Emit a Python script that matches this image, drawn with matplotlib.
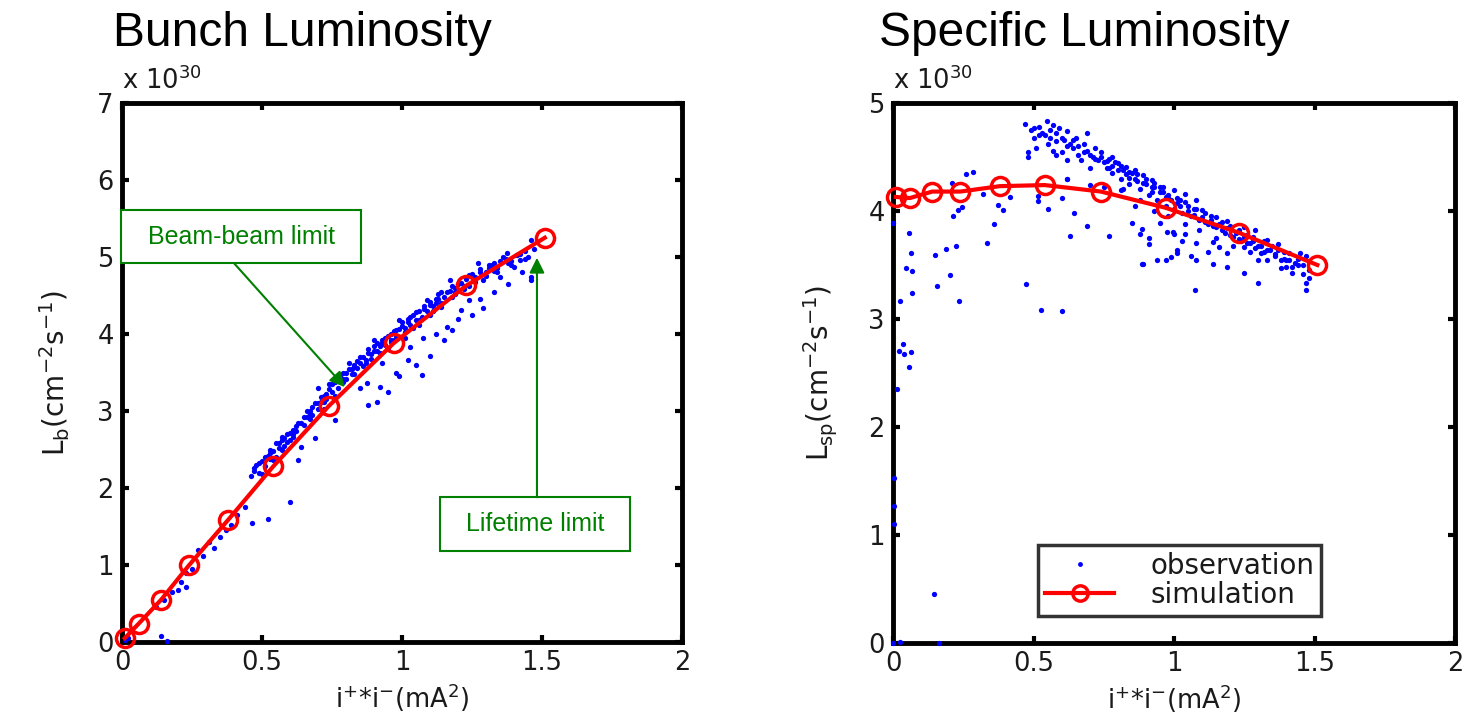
import matplotlib
matplotlib.use("Agg")
import matplotlib.pyplot as plt
from matplotlib.patches import Rectangle

# ---------------- data ----------------
sim_x = [0.01, 0.06, 0.14, 0.24, 0.38, 0.54, 0.74, 0.97, 1.23, 1.51]
sim_lb = [0.05, 0.24, 0.55, 1.00, 1.59, 2.28, 3.07, 3.88, 4.63, 5.25]
sim_lsp = [4.13, 4.12, 4.18, 4.18, 4.23, 4.24, 4.18, 4.03, 3.80, 3.50]

obs_lb_x = [0.01, 0.02, 0.14, 0.16, 0.12, 0.15, 0.18, 0.20, 0.21, 0.23, 0.23, 0.25, 0.27, 0.29,
            0.31, 0.33, 0.35, 0.37, 0.39, 0.41, 0.44, 0.465, 0.52, 0.60, 0.46, 0.47, 0.48, 0.49,
            0.50, 0.50, 0.51, 0.52, 0.53, 0.54, 0.55, 0.55, 0.56, 0.57, 0.58, 0.59, 0.60, 0.61,
            0.62, 0.63, 0.64, 0.64, 0.65, 0.66, 0.67, 0.68, 0.69, 0.70, 0.70, 0.71, 0.72, 0.73,
            0.74, 0.75, 0.76, 0.76, 0.77, 0.78, 0.79, 0.80, 0.81, 0.82, 0.83, 0.84, 0.85, 0.85,
            0.86, 0.875, 0.88, 0.88, 0.89, 0.90, 0.90, 0.91, 0.92, 0.93, 0.93, 0.94, 0.95, 0.96,
            0.97, 0.98, 0.98, 0.99, 1.00, 1.01, 1.02, 1.02, 1.03, 1.03, 1.04, 1.05, 1.06, 1.07,
            1.075, 1.08, 1.09, 1.10, 1.10, 1.11, 1.12, 1.13, 1.14, 1.15, 1.16, 1.16, 1.17, 1.18,
            1.19, 1.20, 1.21, 1.22, 1.23, 1.24, 1.25, 1.25, 1.26, 1.27, 1.28, 1.29, 1.30, 1.31,
            1.32, 1.33, 1.35, 1.35, 1.36, 1.375, 1.38, 1.40, 1.41, 1.42, 1.44, 1.46, 1.46, 1.46,
            1.47, 0.91, 0.95, 0.99, 1.05, 1.10, 1.12, 1.18, 1.20, 1.28, 1.33, 1.38, 1.43,
            0.53, 0.57, 0.61, 0.67, 0.72, 0.79, 0.83, 0.87, 0.92, 0.96, 1.01, 1.06, 1.14,
            1.19, 1.24, 1.29, 1.34, 1.39, 1.44,
            0.47, 0.49, 0.51, 0.53, 0.54, 0.56, 0.57, 0.58, 0.59, 0.60, 0.61, 0.62, 0.63, 0.65,
            0.66, 0.67, 0.68, 0.69, 0.70, 0.71, 0.72, 0.73, 0.74, 0.75, 0.76, 0.77, 0.78, 0.79,
            0.80, 0.81, 0.82, 0.83, 0.84, 0.85, 0.86, 0.87, 0.88, 0.89, 0.90, 0.91, 0.92, 0.93,
            0.94, 0.95, 0.96, 0.97, 0.98, 0.99, 1.00, 1.01, 1.02, 1.03, 1.04, 1.05, 1.06, 1.07,
            1.08, 1.09, 1.10, 1.11, 1.12, 1.13, 1.14, 1.15, 1.17, 1.18, 1.19, 1.21, 1.22, 1.24,
            1.26, 1.28, 1.30, 1.31, 1.33, 1.34, 1.37, 1.39, 1.42, 1.45]
obs_lb_y = [0.03, 0.05, 0.08, 0.01, 0.45, 0.55, 0.65, 0.67, 0.78, 0.72, 0.90, 0.95, 1.19, 1.12,
            1.30, 1.22, 1.37, 1.45, 1.52, 1.65, 1.75, 1.55, 1.60, 1.82, 2.15, 2.22, 2.30, 2.20,
            2.35, 2.18, 2.28, 2.42, 2.38, 2.48, 2.58, 2.40, 2.52, 2.62, 2.55, 2.70, 2.62, 2.75,
            2.80, 2.36, 2.53, 2.85, 2.92, 3.00, 2.90, 3.05, 2.65, 3.10, 3.30, 3.18, 3.02, 3.22,
            3.28, 3.35, 2.88, 3.20, 3.40, 3.45, 3.38, 3.50, 3.62, 3.55, 3.48, 3.65, 3.30, 3.70,
            3.58, 3.36, 3.08, 3.75, 3.68, 3.85, 3.92, 3.78, 3.31, 3.62, 3.88, 3.95, 3.82, 4.00,
            3.92, 3.49, 4.05, 4.18, 4.10, 3.95, 3.66, 4.15, 3.83, 4.22, 4.08, 4.28, 4.18, 3.47,
            3.95, 4.32, 4.44, 4.25, 4.38, 4.30, 4.45, 4.52, 4.40, 3.92, 4.09, 4.55, 4.70, 4.48,
            4.60, 4.65, 4.31, 4.58, 4.72, 4.44, 4.25, 4.78, 4.68, 4.92, 4.80, 4.34, 4.75, 4.86,
            4.90, 4.82, 4.74, 4.95, 5.00, 5.05, 4.92, 4.87, 5.02, 4.96, 5.08, 5.22, 4.74, 4.70,
            5.10, 3.12, 3.25, 3.45, 3.60, 3.72, 4.00, 4.05, 4.20, 4.45, 4.55, 4.65, 4.80,
            2.50, 2.66, 2.70, 2.96, 3.12, 3.42, 3.58, 3.62, 3.75, 3.90, 4.02, 4.12, 4.35,
            4.52, 4.62, 4.70, 4.80, 4.90, 4.98,
            2.26, 2.32, 2.40, 2.45, 2.36, 2.58, 2.50, 2.65, 2.60, 2.72, 2.66, 2.74, 2.85, 2.82,
            2.92, 3.00, 2.95, 3.10, 3.02, 3.12, 3.20, 3.15, 3.35, 3.25, 3.38, 3.30, 3.40, 3.50,
            3.42, 3.55, 3.48, 3.60, 3.56, 3.62, 3.70, 3.66, 3.80, 3.74, 3.78, 3.88, 3.84, 3.92,
            3.86, 3.98, 3.92, 4.04, 3.98, 4.06, 4.15, 4.08, 4.20, 4.12, 4.25, 4.18, 4.30, 4.22,
            4.36, 4.30, 4.42, 4.36, 4.40, 4.45, 4.55, 4.48, 4.56, 4.62, 4.54, 4.66, 4.62, 4.76,
            4.74, 4.85, 4.80, 4.90, 4.92, 4.86, 4.98, 4.95, 5.04, 5.00]

obs_lsp_x = [0.26, 0.285, 0.21, 0.32, 0.416, 0.516, 0.516, 0.60, 0.62, 0.374, 0.39, 0.245, 0.23,
             0.214, 0.55, 0.645, 0.69, 0.63, 0.77, 0.36, 0.335, 0.224, 0.19, 0.15, 0.057, 0.064,
             0.046, 0.067, 0.067, 0.157, 0.203, 0.235, 0.473, 0.527, 0.60, 0.025, 0.0, 0.85,
             0.886, 0.91, 0.91, 0.886, 0.94, 0.99, 0.975, 0.996, 1.01,
             0.036, 0.02, 0.04, 0.064, 0.057, 0.014, 0.004, 0.004, 0.004, 0.146, 0.0, 0.025,
             0.164,
             0.47, 0.548, 0.50, 0.52, 0.57, 0.59, 0.62, 0.69, 0.56, 0.61, 0.65, 0.51, 0.57, 0.64,
             0.69, 0.74, 0.48, 0.58, 0.62, 0.67, 0.73, 0.78, 0.80, 0.83, 0.86, 0.70, 0.77, 0.89,
             0.92, 0.84, 0.95, 1.00, 1.04, 1.08, 0.92, 0.97, 1.01, 1.10, 1.15, 1.19, 1.25, 1.29,
             1.33, 1.37, 1.41, 1.45, 1.47, 1.48, 1.47, 1.47, 1.30, 1.25, 1.19, 1.14, 1.08, 1.06,
             1.01, 0.97, 1.075, 0.89, 0.88, 0.95, 1.00, 1.04, 1.08, 1.14, 1.25, 1.31, 1.38, 1.38,
             1.42, 1.30, 1.19, 1.16, 0.70, 0.62, 0.75, 0.81,
             0.76, 0.78, 0.79, 0.81, 0.82, 0.84, 0.85, 0.87, 0.88, 0.90, 0.91, 0.93, 0.94, 0.96,
             0.97, 0.98, 1.00, 1.02, 1.03, 1.05, 1.06, 1.07, 1.09, 1.11, 1.12, 1.13, 1.15, 1.17,
             1.18, 1.20, 1.21, 1.23, 1.24, 1.26, 1.27, 1.28, 1.30, 1.32, 1.33, 1.35, 1.36, 1.39,
             1.40, 1.43, 1.44, 1.46, 1.48,
             0.49, 0.53, 0.55, 0.58, 0.60, 0.63, 0.66, 0.68, 0.71, 0.72, 0.75, 0.77, 0.48,
             0.50, 0.52, 0.54, 0.56, 0.58, 0.60, 0.62, 0.64, 0.66, 0.68, 0.70, 0.72, 0.74, 0.76,
             0.78, 0.80, 0.81, 0.83, 0.84, 0.86, 0.87, 0.89, 0.90, 0.92, 0.93, 0.95, 0.96, 0.98,
             0.99, 1.01, 1.02, 1.04, 1.05, 1.07, 1.08, 1.10, 1.11, 1.13, 1.14, 1.16, 1.17, 1.19,
             1.20, 1.22, 1.23, 1.25, 1.26, 1.28, 1.29, 1.31, 1.32, 1.34, 1.36, 1.37, 1.39, 1.41,
             1.42, 1.44, 1.46, 0.82, 0.88, 0.93, 0.98, 1.04, 1.09, 1.15, 1.21, 1.27, 1.33, 1.40,
             0.86, 1.03, 1.12]
obs_lsp_y = [4.34, 4.36, 4.26, 4.16, 4.13, 4.14, 4.09, 4.12, 4.30, 4.06, 4.01, 4.04, 4.01,
             3.95, 4.02, 3.98, 3.86, 3.77, 3.77, 3.88, 3.70, 3.68, 3.65, 3.59, 3.80, 3.61,
             3.47, 3.44, 3.24, 3.31, 3.41, 3.17, 3.32, 3.08, 3.07, 3.17, 3.89, 3.89,
             3.83, 3.75, 3.69, 3.51, 3.55, 3.57, 3.81, 3.81, 3.64,
             2.77, 2.70, 2.68, 2.69, 2.56, 2.35, 1.53, 1.27, 1.10, 0.45, 0.0, 0.01,
             0.0,
             4.81, 4.83, 4.77, 4.70, 4.80, 4.77, 4.74, 4.72, 4.68, 4.66, 4.68, 4.58, 4.56, 4.58,
             4.56, 4.55, 4.50, 4.52, 4.47, 4.47, 4.47, 4.50, 4.44, 4.41, 4.38, 4.40, 4.40, 4.33,
             4.29, 4.31, 4.22, 4.19, 4.16, 4.10, 4.18, 4.13, 4.07, 4.01, 3.94, 3.91, 3.85, 3.82,
             3.73, 3.69, 3.61, 3.61, 3.58, 3.38, 3.33, 3.27, 3.33, 3.43, 3.48, 3.51, 3.55, 3.58,
             3.61, 3.55, 3.27, 3.51, 3.79, 3.89, 3.79, 3.79, 3.70, 3.71, 3.67, 3.61, 3.55, 3.47,
             3.43, 3.55, 3.61, 3.67, 4.24, 4.30, 4.22, 4.19,
             4.40, 4.35, 4.45, 4.30, 4.38, 4.25, 4.35, 4.28, 4.20, 4.25, 4.15, 4.22, 4.10, 4.18,
             4.05, 4.12, 4.02, 4.10, 3.98, 4.05, 3.95, 4.02, 3.92, 3.98, 3.88, 3.95, 3.85, 3.90,
             3.80, 3.86, 3.76, 3.82, 3.72, 3.78, 3.70, 3.76, 3.68, 3.72, 3.64, 3.68, 3.60, 3.62,
             3.55, 3.52, 3.56, 3.50, 3.45,
             4.75, 4.72, 4.62, 4.65, 4.55, 4.62, 4.52, 4.62, 4.50, 4.58, 4.45, 4.48, 4.55,
             4.68, 4.78, 4.70, 4.75, 4.72, 4.68, 4.60, 4.66, 4.60, 4.55, 4.52, 4.48, 4.50, 4.46,
             4.42, 4.38, 4.42, 4.34, 4.36, 4.30, 4.34, 4.26, 4.30, 4.22, 4.26, 4.18, 4.22, 4.15,
             4.10, 4.12, 4.05, 4.08, 4.00, 3.96, 4.02, 3.94, 3.90, 3.92, 3.86, 3.88, 3.82, 3.84,
             3.78, 3.80, 3.74, 3.76, 3.70, 3.72, 3.66, 3.68, 3.62, 3.64, 3.58, 3.64, 3.56, 3.55,
             3.48, 3.50, 3.42, 4.20, 4.10, 4.00, 3.95, 3.88, 3.82, 3.75, 3.68, 3.62, 3.55, 3.48,
             4.05, 3.72, 3.62]

x_ticks = [0, 0.5, 1, 1.5, 2]
x_ticklabels = ["0", "0.5", "1", "1.5", "2"]
lb_ticks = [0, 1, 2, 3, 4, 5, 6, 7]
lsp_ticks = [0, 1, 2, 3, 4, 5]

# ---------------- style ----------------
W, H = 1466, 719
plt.rcParams['font.family'] = ['DejaVu Sans']
plt.rcParams['mathtext.default'] = 'regular'
fig = plt.figure(figsize=(W / 100, H / 100), dpi=100)
fig.patch.set_facecolor('white')

ax1 = fig.add_axes([122 / W, 1 - 642 / H, 560 / W, 539 / H])
ax2 = fig.add_axes([893 / W, 1 - 643 / H, 562 / W, 540 / H])

BLUE = '#0000ff'
RED = '#ff0000'
GREEN = '#008000'
TICKFS = 18.5
TXT = '#1a1a1a'

def style(ax, yticks, ymax):
    ax.set_xlim(0, 2)
    ax.set_ylim(0, ymax)
    ax.set_xticks(x_ticks)
    ax.set_xticklabels(x_ticklabels)
    ax.set_yticks(yticks)
    ax.set_yticklabels([str(t) for t in yticks])
    for s in ax.spines.values():
        s.set_linewidth(3.5)
        s.set_color('black')
    ax.tick_params(direction='in', length=5, width=3, top=True, right=True,
                   labelsize=TICKFS, colors='black', labelcolor=TXT, pad=6)
    ax.set_xlabel(r'i$^{+}$*i$^{-}$(mA$^{2}$)', fontsize=TICKFS, labelpad=4, color=TXT)
    ax.text(0.0, 1.014, r'x 10$^{30}$', transform=ax.transAxes, fontsize=TICKFS,
            ha='left', va='bottom', color=TXT)

# left panel
ax1.plot(obs_lb_x, obs_lb_y, linestyle='none', marker='o', ms=3.8, mfc=BLUE, mec=BLUE,
         mew=0, zorder=3, clip_on=False)
ax1.plot(sim_x, sim_lb, color=RED, lw=3, marker='o', ms=13, mfc='none', mec=RED,
         mew=2.5, zorder=4, clip_on=False)
style(ax1, lb_ticks, 7)
ax1.set_ylabel(r'L$_{b}$(cm$^{-2}$s$^{-1}$)', fontsize=20, labelpad=18, color=TXT)

# annotation boxes
ax1.add_patch(Rectangle((-0.004, 4.92), 0.858, 0.69, fill=True, facecolor='white',
                        edgecolor=GREEN, lw=1.5, zorder=5, clip_on=False))
ax1.text(0.425, 5.265, 'Beam-beam limit', color=GREEN, fontsize=18,
         family='Liberation Sans', ha='center', va='center', zorder=6)
ax1.annotate('', xy=(0.796, 3.31), xytext=(0.40, 4.92),
             arrowprops=dict(arrowstyle='-|>,head_length=0.9,head_width=0.45',
                             color=GREEN, lw=1.5, shrinkA=0, shrinkB=0), zorder=6)
ax1.add_patch(Rectangle((1.136, 1.18), 0.678, 0.70, fill=True, facecolor='white',
                        edgecolor=GREEN, lw=1.5, zorder=5, clip_on=False))
ax1.text(1.475, 1.53, 'Lifetime limit', color=GREEN, fontsize=18,
         family='Liberation Sans', ha='center', va='center', zorder=6)
ax1.annotate('', xy=(1.482, 4.99), xytext=(1.482, 1.88),
             arrowprops=dict(arrowstyle='-|>,head_length=0.9,head_width=0.45',
                             color=GREEN, lw=1.5, shrinkA=0, shrinkB=0), zorder=6)

# right panel
ax2.plot(obs_lsp_x, obs_lsp_y, linestyle='none', marker='o', ms=3.8, mfc=BLUE, mec=BLUE,
         mew=0, zorder=3, clip_on=False, label='observation')
ax2.plot(sim_x, sim_lsp, color=RED, lw=3, marker='o', ms=13, mfc='none', mec=RED,
         mew=2.5, zorder=4, clip_on=False, label='simulation')
style(ax2, lsp_ticks, 5)
ax2.set_ylabel(r'L$_{sp}$(cm$^{-2}$s$^{-1}$)', fontsize=20, labelpad=20, color=TXT)
leg = ax2.legend(loc='lower left', bbox_to_anchor=(0.258, 0.05), borderaxespad=0,
                 fontsize=20, frameon=True, fancybox=False, handlelength=2.5,
                 handletextpad=1.3, borderpad=0.25, labelspacing=0.05, markerscale=1.0)
leg.get_frame().set_edgecolor('black')
leg.get_frame().set_linewidth(2.5)
handles = leg.legend_handles
handles[0].set_markersize(3.5)
handles[1].set_markersize(11)
for t in leg.get_texts():
    t.set_color(TXT)

# titles
fig.text(113 / W, 1 - 34 / H, 'Bunch Luminosity', fontsize=34.5, family='Liberation Sans',
         ha='left', va='center', color='black')
fig.text(879 / W, 1 - 34 / H, 'Specific Luminosity', fontsize=34.5, family='Liberation Sans',
         ha='left', va='center', color='black')

fig.savefig('out.png', dpi=100, facecolor='white')
